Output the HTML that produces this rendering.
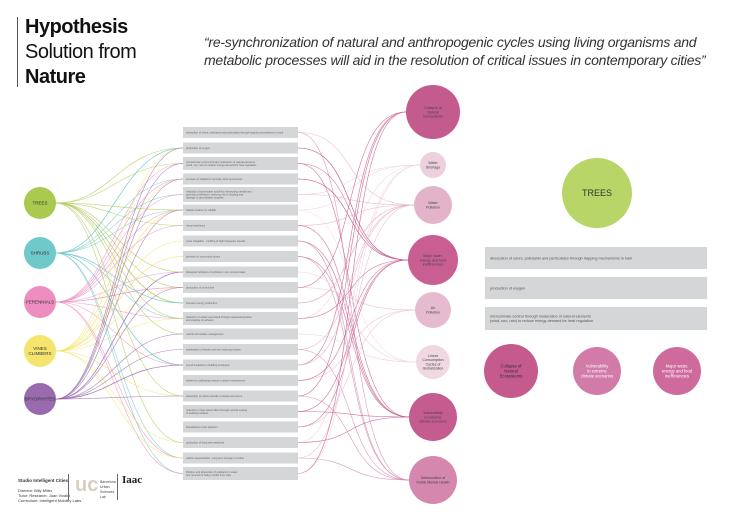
<!DOCTYPE html>
<html><head><meta charset="utf-8"><style>
body{margin:0;width:730px;height:516px;background:#fff;overflow:hidden;font-family:"Liberation Sans",sans-serif;position:relative}
.t{position:absolute}
</style></head><body>
<div class="t" style="left:17px;top:17px;width:1px;height:70px;background:#555"></div>
<div class="t" style="left:25px;top:15px;font-size:20px;line-height:25px;color:#111;letter-spacing:-0.5px"><b>Hypothesis</b><br>Solution from<br><b>Nature</b></div>
<div class="t" style="left:204px;top:33px;font-size:14px;line-height:18px;font-style:italic;color:#333;letter-spacing:-0.25px;white-space:nowrap">“re-synchronization of natural and anthropogenic cycles using living organisms and<br>metabolic processes will aid in the resolution of critical issues in contemporary cities”</div>
<svg class="t" style="left:0;top:0" width="730" height="516" id="s"></svg>
<div class="t" style="left:18px;top:478px;font-size:4px;line-height:5px;color:#333"><b style="font-size:4.5px">Studio Intelligent Cities</b><br><br>Director: Billy Miller<br>Tutor: Research: Juan Vivaldi<br>Curriculum: Intelligent Mobility Labs</div>
<div class="t" style="left:68px;top:474px;width:1px;height:26px;background:#666"></div>
<div class="t" style="left:75px;top:474px;font-size:20px;color:#d8d0bf;font-weight:bold">uc</div>
<div class="t" style="left:100px;top:480px;font-size:3.5px;line-height:5px;color:#444">Barcelona<br>Urban<br>Sciences<br>Lab</div>
<div class="t" style="left:117px;top:474px;width:1px;height:26px;background:#666"></div>
<div class="t" style="left:122px;top:474px;font-size:11px;font-family:'Liberation Serif',serif;font-weight:bold;color:#222">Iaac</div>
<script>
const s=document.getElementById('s');let h='';
const left=[["TREES",203,"#a9c94f"],["SHRUBS",253,"#6fc8c9"],["PERENNIALS",302,"#ee8dbf"],["VINES\nCLIMBERS",351,"#f5e46e"],["BRYOPHYTES",399,"#9a6aae"]];
const boxes=["absorption of odors, pollutants and particulates through trapping mechanisms in bark","production of oxygen","microclimate control through moderation of natural elements\n(wind, sun, rain) to reduce energy demand for heat regulation","provision of habitat for animals, birds and insects","reduction of stormwater runoff by intercepting rainfall and\npromoting infiltration, reducing risk of flooding and\ndamage to groundwater supplies","habitat creation for wildlife","visual aesthetics","noise mitigation - muffling of high frequency sounds","provision of community space","biological indicators of pollution in air, soil and water","production of oil and fuel","biomass energy production","reduction of urban heat island through evapotranspiration\nand shading of surfaces","natural stormwater management","stabilization of slopes and soil, reducing erosion","sound insulation in building envelopes","shelter for pollinating insects in urban environments","absorption of carbon dioxide in leaves and stems","reduction in heat island effect through vertical cooling\nof building surfaces","bioindicators of air pollution","production of food and medicines","carbon sequestration - long term storage of carbon","filtration and absorption of pollutants in water\nand removal of heavy metals from soils"];
const right=[["Collapse of\nNatural\nEcosystems",112,27,"#c45b8d"],["Water\nShortage",165,13,"#ecd0dd"],["Water\nPollution",205,19,"#e3b4c9"],["Major water,\nenergy and food\ninefficiencies",260,25,"#c95e92"],["Air\nPollution",310,18,"#e6bbd0"],["Linear\nConsumption\nCycles of\nGlobalization",362,17,"#f0d8e3"],["Vulnerability\nto extreme\nclimate scenarios",417,24,"#c55c8f"],["Deterioration of\nPublic Mental Health",480,24,"#d587ad"]];
let r=7;function rnd(){r=(r*9301+49297)%233280;return r/233280;}
function txt(x,y,t,fs,col,anchor){const L=t.split("\n");let o='';L.forEach((l,i)=>{o+=`<text x="${x}" y="${y+(i-(L.length-1)/2)*fs*1.15+fs*0.35}" font-size="${fs}" fill="${col}" text-anchor="${anchor||'middle'}" font-family="Liberation Sans, sans-serif">${l}</text>`});return o;}
const by=boxes.map((b,i)=>127+i*15.5);
left.forEach((c,ci)=>{for(let k=0;k<12;k++){const j=Math.floor(rnd()*23);const ty=by[j]+5.5;h+=`<path d="M56 ${c[1]} C110 ${c[1]} 120 ${ty} 183 ${ty}" stroke="${c[2]}" stroke-width="0.6" fill="none" opacity="0.8"/>`;}});
by.forEach((y,i)=>{for(let k=0;k<2;k++){const ci=Math.floor(rnd()*8);const c=right[ci];const ex=433-c[2];h+=`<path d="M298 ${y+5.5} C360 ${y+5.5} 340 ${c[1]} ${ex} ${c[1]}" stroke="${c[3]}" stroke-width="0.6" fill="none" opacity="0.85"/>`;}});
by.forEach((y,i)=>{const n=boxes[i].split("\n").length;const hh=n>1?(n>2?15:13):11;h+=`<rect x="183" y="${y+5.5-hh/2}" width="115" height="${hh}" fill="#d4d6d8"/>`+txt(186,y+5.5,boxes[i],2.6,"#666","start");});
left.forEach(c=>{h+=`<circle cx="40" cy="${c[1]}" r="16" fill="${c[2]}"/>`+txt(40,c[1],c[0],4.5,"#333");});
right.forEach(c=>{h+=`<circle cx="433" cy="${c[1]}" r="${c[2]}" fill="${c[3]}"/>`+txt(433,c[1],c[0],3.6,"#444");});
h+=`<circle cx="597" cy="193" r="35" fill="#b8d667"/>`+txt(597,193,"TREES",9,"#333");
[[247,22,"absorption of odors, pollutants and particulates through trapping mechanisms in bark"],[277,22,"production of oxygen"],[307,23,"microclimate control through moderation of natural elements\n(wind, sun, rain) to reduce energy demand for heat regulation"]].forEach(b=>{h+=`<rect x="485" y="${b[0]}" width="222" height="${b[1]}" fill="#d4d6d8"/>`+txt(490,b[0]+b[1]/2,b[2],3.8,"#555","start");});
h+=`<circle cx="511" cy="371" r="27" fill="#c55a8d"/>`+txt(511,371,"Collapse of\nNatural\nEcosystems",4.2,"#333");
h+=`<circle cx="597" cy="371" r="24" fill="#d27aa8"/>`+txt(597,371,"Vulnerability\nto extreme\nclimate scenarios",4.2,"#fff");
h+=`<circle cx="677" cy="371" r="24" fill="#cf6a9c"/>`+txt(677,371,"Major water,\nenergy and food\ninefficiencies",4.2,"#fff");
s.innerHTML=h;
</script>
</body></html>
